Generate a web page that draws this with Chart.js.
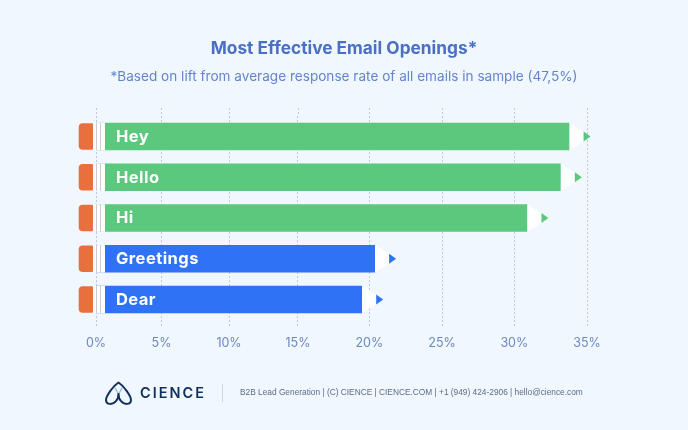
<!DOCTYPE html>
<html><head><meta charset="utf-8">
<style>html,body{margin:0;padding:0;background:#f0f7fe}#w{width:688px;height:430px;position:relative}canvas{display:block}</style>
<script src="https://cdn.jsdelivr.net/npm/chart.js@4"></script></head>
<body><div id="w"><canvas id="c" width="688" height="430"></canvas></div>
<script>
const categories = ['Hey','Hello','Hi','Greetings','Dear'];
const lift = [33.8,33.2,30.9,20.4,19.5];
const barColors = ['#5bc87d','#5bc87d','#5bc87d','#2f72f5','#2f72f5'];
const tickValues = [0,5,10,15,20,25,30,35];
const titleText = 'Most Effective Email Openings*';
const subtitleText = '*Based on lift from average response rate of all emails in sample (47,5%)';
const footerText = 'B2B Lead Generation | (C) CIENCE | CIENCE.COM | +1 (949) 424-2906 | hello@cience.com';
const brandText = 'CIENCE';
// The reference's axis is slightly uneven: fraction of the axis length at each tick
const tickFractions = [0,0.1334,0.2709,0.4114,0.5566,0.7047,0.852,1];

class UnevenScale extends Chart.LinearScale {
  getPixelForValue(v){
    const n=tickValues.length-1, s=Math.max(0,Math.min(n-1,Math.floor(v/5)));
    const t=(v-tickValues[s])/5;
    const f=tickFractions[s]+(tickFractions[s+1]-tickFractions[s])*t;
    return this.getPixelForDecimal(f);
  }
}
UnevenScale.id='uneven';
UnevenScale.defaults=Chart.LinearScale.defaults;
Chart.register(UnevenScale);

const font='Inter';
const gridCol='#b9c7e4';
const pencil={
  id:'pencil',
  afterLayout(ch){
    ch.boxes.forEach(b=>{ if(b.options && b.options.text!==undefined){ b.left=0; b.right=688; } });
  },
  beforeDatasetsDraw(ch){
    const c=ch.ctx,x=ch.scales.x; c.save();
    c.strokeStyle=gridCol;c.lineWidth=1;c.setLineDash([2,2]);
    x.ticks.forEach(t=>{const p=Math.round(x.getPixelForValue(t.value))+0.5;c.beginPath();c.moveTo(p,108);c.lineTo(p,ch.chartArea.top);c.stroke();});
    c.restore();
  },
  afterDatasetsDraw(ch){
    const c=ch.ctx,m=ch.getDatasetMeta(0),x0=ch.scales.x.getPixelForValue(0);
    c.save();
    m.data.forEach((b,i)=>{
      const h=b.height,t=b.y-h/2,e=b.x;
      c.fillStyle='#ffffff';c.fillRect(x0-3,t,12,h);
      c.fillStyle='#c9ccd3';c.fillRect(x0,t,1,h);c.fillRect(x0+4,t,1,h);
      c.fillStyle='#e8703f';c.beginPath();c.roundRect(x0-17.3,t+0.5,14.3,h-1,[4,1,1,4]);c.fill();
      c.fillStyle='#ffffff';c.beginPath();c.moveTo(e,t);c.lineTo(e+21,b.y);c.lineTo(e,t+h);c.closePath();c.fill();
      c.fillStyle=barColors[i];c.beginPath();c.moveTo(e+14,b.y-5);c.lineTo(e+21,b.y);c.lineTo(e+14,b.y+5);c.closePath();c.fill();
      c.fillStyle='#ffffff';c.font='700 16.5px '+font;c.textAlign='left';c.textBaseline='middle';
      try{c.letterSpacing='0.45px'}catch(_){}
      c.fillText(categories[i],116,b.y+0.5);
      try{c.letterSpacing='0px'}catch(_){}
    });
    c.restore();
  },
  afterDraw(ch){
    const c=ch.ctx;c.save();
    c.textBaseline='middle';c.textAlign='left';
    c.fillStyle='#5d6b85';c.font='8.33px "Liberation Sans"';c.fillText(footerText,240,393);
    c.strokeStyle='#cfd6df';c.lineWidth=1;c.beginPath();c.moveTo(222.5,384);c.lineTo(222.5,402);c.stroke();
    c.fillStyle='#11315c';c.font='600 14.5px '+font;try{c.letterSpacing='2px'}catch(_){}
    c.fillText(brandText,140,393.5);try{c.letterSpacing='0px'}catch(_){}
    // logo mark
    c.lineJoin='round';
    c.strokeStyle='#9fb6d6';c.lineWidth=1.2;
    c.beginPath();c.moveTo(118.5,396);c.bezierCurveTo(118,391,114,388,114,385);c.moveTo(118.5,396);c.bezierCurveTo(119,391,123,388,123,385);c.stroke();
    c.strokeStyle='#11315c';c.lineWidth=2;
    c.beginPath();c.moveTo(118.5,382.5);
    c.bezierCurveTo(124,386,131,396,131,400);c.bezierCurveTo(131,405,124,405,121,401);c.bezierCurveTo(119,399,118.5,396,118.5,394);
    c.bezierCurveTo(118.5,396,118,399,116,401);c.bezierCurveTo(113,405,106,405,106,400);c.bezierCurveTo(106,396,113,386,118.5,382.5);c.closePath();c.stroke();
    c.restore();
  }
};

new Chart(document.getElementById('c'),{
  type:'bar',
  data:{labels:categories,datasets:[{data:lift,backgroundColor:barColors,barPercentage:0.675,categoryPercentage:1,borderWidth:0}]},
  plugins:[pencil],
  options:{
    indexAxis:'y',responsive:false,animation:false,devicePixelRatio:1,
    layout:{padding:{left:88,right:101,top:0,bottom:69}},
    plugins:{
      legend:{display:false},tooltip:{enabled:false},
      title:{display:true,text:titleText,color:'#4a6fc4',font:{family:font,size:17.3,weight:'700'},padding:{top:38,bottom:6}},
      subtitle:{display:true,text:subtitleText,color:'#6484cc',font:{family:font,size:13.6,weight:'400'},padding:{top:4,bottom:31}}
    },
    scales:{
      x:{type:'uneven',position:'bottom',min:0,max:35,
        afterBuildTicks(s){s.ticks=tickValues.map(v=>({value:v}));},
        grid:{color:gridCol,lineWidth:1,tickBorderDash:[2,2],tickColor:gridCol,tickLength:6},
        border:{display:false,dash:[2,2]},
        ticks:{color:'#6f86c2',font:{family:font,size:12.5},padding:10,maxRotation:0,callback:v=>v+'%'}},
      y:{type:'category',offset:true,grid:{display:false},border:{display:false},ticks:{display:false}}
    }
  }
});
</script></body></html>
